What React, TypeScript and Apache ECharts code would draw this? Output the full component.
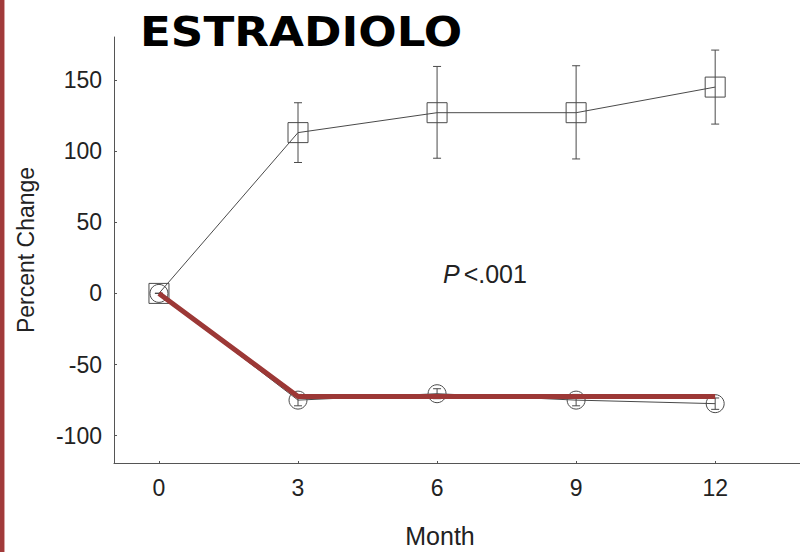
import React, { useEffect, useRef } from "react";
import * as echarts from "echarts";

const months = [0, 3, 6, 9, 12];
const squareValues = [0, 113, 127, 127, 145];
const squareLow = [0, 92, 95, 94.5, 119];
const squareHigh = [0, 134, 159.5, 160, 171];
const circleValues = [0, -75, -70.5, -75, -77.5];
const circleLow = [0, -79, -74, -79, -81.5];
const circleHigh = [0, -71, -67, -71, -73.5];
const trendValues = [0, -72.5, -72.5, -72.5, -72.5];
const xTicks = [0, 3, 6, 9, 12];
const yTicks = [-100, -50, 0, 50, 100, 150];

const FONT = "'Liberation Sans', Arial, sans-serif";
const INK = "#4a4a4a";

function errorBars(lows: number[], highs: number[]) {
  return months.map((m, i) => [m, lows[i], highs[i]]);
}

export default function App() {
  const ref = useRef<HTMLDivElement>(null);
  useEffect(() => {
    if (!ref.current) return;
    const chart = echarts.init(ref.current, null, { renderer: "svg" });
    const renderErr = (params: any, api: any) => {
      const x = api.value(0);
      const lo = api.coord([x, api.value(1)]);
      const hi = api.coord([x, api.value(2)]);
      const cap = 4;
      const style = { stroke: INK, lineWidth: 1 };
      return {
        type: "group",
        children: [
          { type: "line", shape: { x1: lo[0], y1: lo[1], x2: hi[0], y2: hi[1] }, style },
          { type: "line", shape: { x1: lo[0] - cap, y1: lo[1], x2: lo[0] + cap, y2: lo[1] }, style },
          { type: "line", shape: { x1: hi[0] - cap, y1: hi[1], x2: hi[0] + cap, y2: hi[1] }, style },
        ],
      };
    };
    chart.setOption({
      animation: false,
      backgroundColor: "#fff",
      grid: { left: 114, top: 37, right: 0, bottom: 89, containLabel: false, outerBoundsMode: "none" },
      xAxis: {
        type: "value",
        min: -0.97,
        max: 13.83,
        name: "Month",
        nameLocation: "middle",
        nameGap: 60,
        nameTextStyle: { fontFamily: FONT, fontSize: 25, color: "#222", padding: [0, 34, 0, 0] },
        axisLine: { onZero: false, lineStyle: { color: "#555", width: 1 } },
        axisTick: { show: true, inside: true, length: 2, customValues: xTicks, lineStyle: { color: "#555" } },
        axisLabel: { customValues: xTicks, fontFamily: FONT, fontSize: 23, color: "#222", margin: 13 },
        splitLine: { show: false },
      },
      yAxis: {
        type: "value",
        min: -119.2,
        max: 180.2,
        name: "Percent Change",
        nameLocation: "middle",
        nameGap: 77,
        nameRotate: 90,
        nameTextStyle: { fontFamily: FONT, fontSize: 23, color: "#222" },
        axisLine: { show: true, onZero: false, lineStyle: { color: "#555", width: 1 } },
        axisTick: { show: true, inside: true, length: 3, customValues: yTicks, lineStyle: { color: "#555" } },
        axisLabel: { customValues: yTicks, fontFamily: FONT, fontSize: 23, color: "#222", margin: 12 },
        splitLine: { show: false },
      },
      series: [
        {
          type: "custom",
          renderItem: renderErr,
          data: errorBars(squareLow, squareHigh),
          encode: { x: 0, y: [1, 2] },
          z: 2,
        },
        {
          type: "custom",
          renderItem: renderErr,
          data: errorBars(circleLow, circleHigh),
          encode: { x: 0, y: [1, 2] },
          z: 2,
        },
        {
          type: "line",
          data: months.map((m, i) => [m, squareValues[i]]),
          symbol: "rect",
          symbolSize: 20,
          lineStyle: { color: INK, width: 1 },
          itemStyle: { color: "rgba(0,0,0,0)", borderColor: INK, borderWidth: 1 },
          z: 3,
        },
        {
          type: "line",
          data: months.map((m, i) => [m, circleValues[i]]),
          symbol: "circle",
          symbolSize: 18,
          lineStyle: { color: INK, width: 1 },
          itemStyle: { color: "rgba(0,0,0,0)", borderColor: INK, borderWidth: 1 },
          z: 3,
        },
        {
          type: "line",
          data: months.map((m, i) => [m, trendValues[i]]),
          symbol: "none",
          lineStyle: { color: "#9c3836", width: 5, cap: "butt" },
          z: 5,
        },
      ],
      graphic: [
        { type: "rect", left: 0, top: 0, shape: { width: 4, height: 552 }, style: { fill: "#a13a3a" } },
        { type: "rect", left: 4, top: 0, shape: { width: 1, height: 552 }, style: { fill: "#d9a3a3" } },
        {
          type: "text",
          x: 140,
          y: 12,
          scaleX: 1.13,
          style: {
            text: "ESTRADIOLO",
            font: "bold 40px 'DejaVu Sans', sans-serif",
            fill: "#000",
          },
        },
        {
          type: "text",
          left: 443,
          top: 261,
          style: {
            text: "{i|P}{n|<.001}",
            rich: {
              i: { fontFamily: FONT, fontStyle: "italic", fontSize: 25, fill: "#222", padding: [0, 4, 0, 0] },
              n: { fontFamily: FONT, fontSize: 25, fill: "#222" },
            },
          },
        },
      ],
    });
    return () => chart.dispose();
  }, []);
  return <div ref={ref} style={{ width: 800, height: 552, position: "absolute", left: 0, top: 0 }} />;
}
